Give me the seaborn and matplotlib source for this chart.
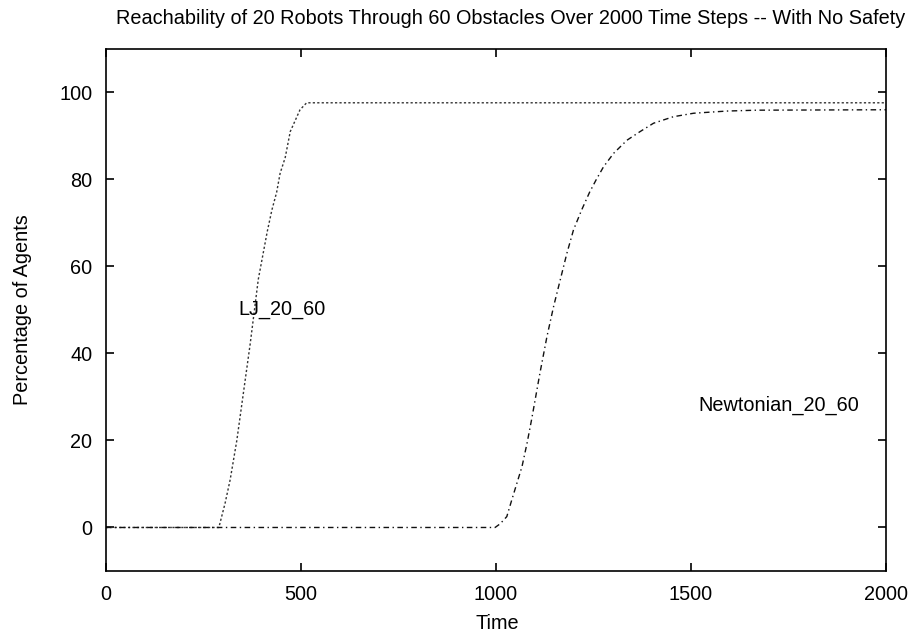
import numpy as np
import pandas as pd
import matplotlib
matplotlib.use("Agg")
import matplotlib.pyplot as plt
import seaborn as sns

# Data
lj_time = [0, 290, 306, 319, 336, 353, 370, 391, 414, 426, 438, 447, 460, 473, 498, 515, 2000]
lj_pct = [0, 0, 5.6, 11, 20, 31, 42, 57, 68, 73, 77, 81.4, 85, 91, 96, 97.6, 97.6]

newton_time = [0, 998, 1011, 1028, 1041, 1054, 1067, 1080, 1092, 1113, 1131, 1148, 1165, 1182,
               1199, 1220, 1240, 1257, 1276, 1302, 1336, 1370, 1404, 1455, 1507, 1592, 1669, 2000]
newton_pct = [0, 0, 0.85, 2.5, 6.4, 10.2, 14, 19.4, 25, 35.5, 43.9, 50.8, 56.9, 63,
              68.4, 73, 77, 79.9, 82.9, 86, 89, 91, 92.9, 94.4, 95.2, 95.7, 95.9, 96.0]

x_ticks = [0, 500, 1000, 1500, 2000]
y_ticks = [0, 20, 40, 60, 80, 100]

title = "Reachability of 20 Robots Through 60 Obstacles Over 2000 Time Steps -- With No Safety"

sns.set_style("white")
plt.rcParams['font.family'] = ['Liberation Sans', 'DejaVu Sans']
FS = 14.3

fig = plt.figure(figsize=(9.17, 6.35), dpi=100)
ax = fig.add_axes([0.1153, 0.1008, 0.8509, 0.8223])

df_lj = pd.DataFrame({"Time": lj_time, "Pct": lj_pct})
df_nw = pd.DataFrame({"Time": newton_time, "Pct": newton_pct})

sns.lineplot(data=df_lj, x="Time", y="Pct", ax=ax, color="#333333", lw=1.0,
             linestyle=(0, (1.6, 1.6)), estimator=None, sort=False)
sns.lineplot(data=df_nw, x="Time", y="Pct", ax=ax, color="#111111", lw=1.0,
             linestyle=(0, (4, 2.5, 1, 2.5)), estimator=None, sort=False)

ax.set_xlim(0, 2000)
ax.set_ylim(-10, 110)
ax.set_xticks(x_ticks)
ax.set_yticks(y_ticks)
ax.tick_params(direction="in", length=6, width=1.2, labelsize=FS,
               top=True, right=True, bottom=True, left=True, colors="black")
ax.tick_params(axis="x", pad=10)
ax.tick_params(axis="y", pad=9.6)
for s in ax.spines.values():
    s.set_visible(True)
    s.set_color("black")
    s.set_linewidth(1.2)

ax.set_xlabel("")
ax.set_ylabel("")
fig.text(497 / 917, 1 - 629.3 / 635, "Time", fontsize=FS, ha="center",
         va="baseline", color="black")
fig.text(22.5 / 917, 1 - 310 / 635, "Percentage of Agents", fontsize=FS, ha="center",
         va="center", rotation=90, color="black")

ax.text(340, 50, "LJ_20_60", fontsize=FS, ha="left", va="center", color="black")
ax.text(1520, 28, "Newtonian_20_60", fontsize=FS, ha="left", va="center", color="black")

fig.text(510.5 / 917, 1 - 24.5 / 635, title, fontsize=FS, ha="center",
         va="baseline", color="black")

fig.savefig("out.png", dpi=100, facecolor="white")
